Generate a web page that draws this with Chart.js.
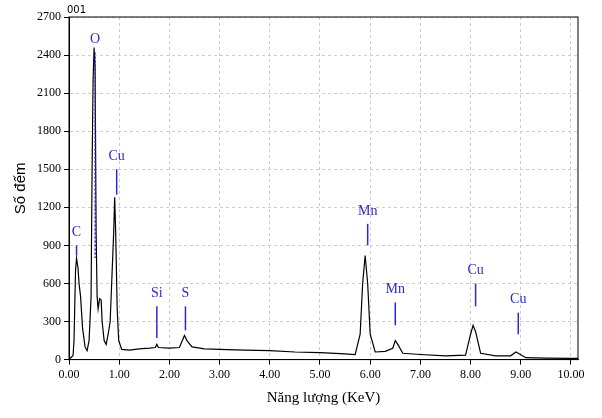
<!DOCTYPE html><html><head><meta charset="utf-8">
<script src="https://cdn.jsdelivr.net/npm/chart.js@4"></script>
<style>body{margin:0;background:#fff}#w{width:602px;height:418px}</style></head><body><div id="w"><canvas id="c"></canvas></div>
<script>
const energy=[0.00,0.05,0.08,0.10,0.13,0.15,0.18,0.20,0.23,0.27,0.32,0.36,0.40,0.44,0.46,0.48,0.50,0.52,0.54,0.56,0.58,0.61,0.64,0.66,0.70,0.74,0.78,0.82,0.86,0.89,0.91,0.93,0.96,0.99,1.05,1.20,1.40,1.60,1.72,1.75,1.78,2.00,2.20,2.30,2.35,2.45,2.70,3.00,3.50,4.00,4.50,5.00,5.50,5.70,5.80,5.85,5.90,5.95,6.00,6.10,6.30,6.45,6.50,6.55,6.65,7.00,7.50,7.90,8.00,8.05,8.10,8.20,8.50,8.80,8.90,8.95,9.10,9.50,10.00,10.14];
const counts=[0,20,30,150,700,800,720,600,500,250,100,70,150,500,1500,2200,2460,2300,1000,500,400,480,470,300,150,120,200,300,700,1000,1280,1000,400,150,80,75,85,90,95,120,95,90,95,190,150,100,85,80,75,70,60,55,45,40,200,600,820,600,200,60,65,90,150,120,50,40,30,35,200,270,220,50,30,30,60,50,15,12,10,10];
const xTicks=[0,1,2,3,4,5,6,7,8,9,10];
const yTicks=[0,300,600,900,1200,1500,1800,2100,2400,2700];
const peakNames=['C','O','Cu','Si','S','Mn','Mn','Cu','Cu'];
const peakE=[0.15,0.52,0.95,1.75,2.32,5.95,6.50,8.10,8.95];
const peakLineTop=[900,2420,1500,420,420,1070,450,600,370];
const peakLineBot=[820,800,1300,170,230,900,270,420,200];
const labels={id:'labels',afterDatasetsDraw(ch){const c=ch.ctx,x=ch.scales.x,y=ch.scales.y;c.save();c.fillStyle='#2a2ad0';c.strokeStyle='#2a2ad0';c.lineWidth=1.5;c.font='14px "Liberation Serif"';c.textAlign='center';c.textBaseline='bottom';
peakNames.forEach((n,i)=>{const px=x.getPixelForValue(peakE[i]);const top=y.getPixelForValue(peakLineTop[i]);c.fillText(n,px,top-6);c.setLineDash(i===1?[2,2]:[]);c.beginPath();c.moveTo(px,top);c.lineTo(px,y.getPixelForValue(peakLineBot[i]));c.stroke();});
c.setLineDash([]);c.fillStyle='#000';c.font='10px "DejaVu Sans"';c.textAlign='left';c.fillText('001',ch.chartArea.left-2,ch.chartArea.top-2);
c.strokeStyle='#000';c.lineWidth=1;c.strokeRect(ch.chartArea.left,ch.chartArea.top,ch.chartArea.right-ch.chartArea.left,ch.chartArea.bottom-ch.chartArea.top);c.restore();}};
new Chart(document.getElementById('c'),{type:'line',data:{datasets:[{data:energy.map((e,i)=>({x:e,y:counts[i]})),borderColor:'#000',borderWidth:1.2,pointRadius:0,tension:0}]},
options:{responsive:true,maintainAspectRatio:false,animation:false,layout:{padding:{top:17,right:24,left:8,bottom:7}},plugins:{legend:{display:false},tooltip:{enabled:false}},
scales:{x:{type:'linear',min:0,max:10.14,afterBuildTicks:s=>{s.ticks=xTicks.map(v=>({value:v}));},ticks:{callback:v=>v.toFixed(2),color:'#000',font:{family:'Liberation Serif',size:12},maxRotation:0},grid:{color:'#ccc',tickLength:5,tickColor:'#000'},border:{color:'#000',dash:[3,3]},title:{display:true,text:'Năng lượng (KeV)',color:'#000',font:{family:'Liberation Serif',size:15}}},
y:{min:0,max:2700,afterBuildTicks:s=>{s.ticks=yTicks.map(v=>({value:v}));},ticks:{callback:v=>String(v),color:'#000',font:{family:'Liberation Serif',size:12}},grid:{color:'#ccc',tickLength:5,tickColor:'#000'},border:{color:'#000',dash:[3,3]},title:{display:true,text:'Số đếm',color:'#000',font:{family:'Liberation Sans',size:15}}}}},plugins:[labels]});
</script></body></html>
